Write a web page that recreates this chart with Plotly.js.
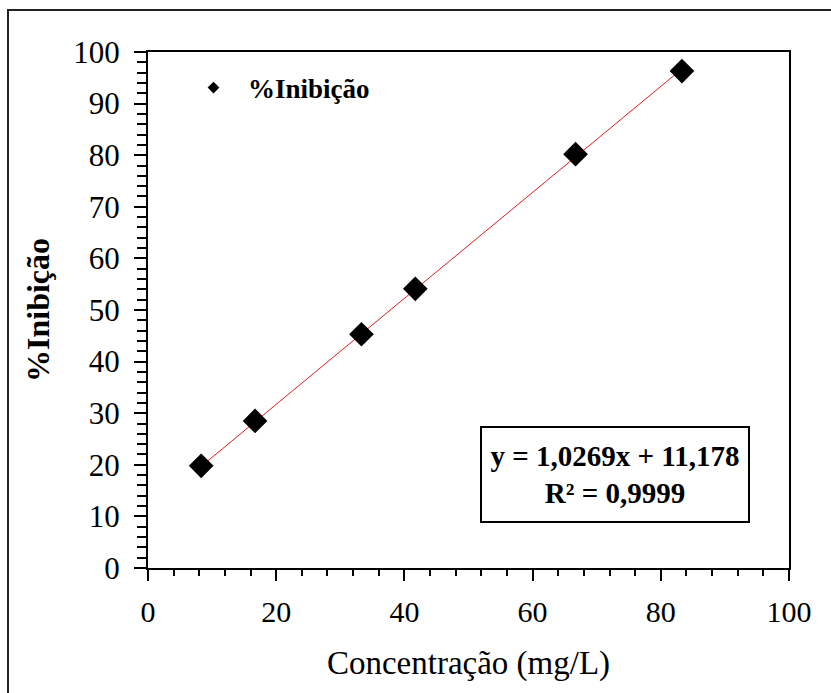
<!DOCTYPE html>
<html>
<head>
<meta charset="utf-8">
<script src="https://cdn.plot.ly/plotly-3.0.1.min.js"></script>
<style>
  html, body { margin: 0; padding: 0; background: #fff; }
  #chart { width: 831px; height: 693px; }
</style>
</head>
<body>
<div id="chart"></div>
<script>
// Concentration (mg/L) and measured inhibition (%)
const concentracao = [8.3, 16.7, 33.3, 41.7, 66.7, 83.3];
const inibicao = [19.8, 28.5, 45.3, 54.1, 80.2, 96.3];

// Linear fit reported for the series
const slope = 1.0269;
const intercept = 11.178;
const r2 = 0.9999;

const xTicks = [0, 20, 40, 60, 80, 100];
const yTicks = [0, 10, 20, 30, 40, 50, 60, 70, 80, 90, 100];

const fmt = (v, d) => v.toFixed(d).replace('.', ',');

const xMin = Math.min(...concentracao);
const xMax = Math.max(...concentracao);
const fitX = [xMin, xMax];
const fitY = fitX.map(x => slope * x + intercept);

const serif = 'Liberation Serif, Times New Roman, serif';

const traces = [
  {
    x: fitX, y: fitY, mode: 'lines', type: 'scatter',
    line: { color: 'rgb(220,30,30)', width: 1 },
    showlegend: false, hoverinfo: 'skip'
  },
  {
    x: concentracao, y: inibicao, mode: 'markers', type: 'scatter',
    marker: { symbol: 'diamond', size: 19, color: '#000' },
    showlegend: false
  },
  {
    // legend entry for the measured series
    x: [null], y: [null], mode: 'markers', type: 'scatter',
    name: '<b>%Inibição</b>',
    marker: { symbol: 'diamond', size: 9, color: '#000' }
  }
];

// plot area geometry in pixels, used for the outer frame
const L = 148, R = 42, T = 52, B = 125, W = 831, H = 693;
const pw = W - L - R, ph = H - T - B;
const px = v => (v - L) / pw;
const py = v => (H - B - v) / ph;

const layout = {
  width: W, height: H,
  margin: { l: L, r: R, t: T, b: B },
  paper_bgcolor: '#fff', plot_bgcolor: '#fff',
  font: { family: serif, color: '#000' },
  xaxis: {
    range: [0, 100], tickvals: xTicks, ticktext: xTicks.map(String),
    showgrid: false, zeroline: false,
    showline: true, linecolor: '#000', linewidth: 2, mirror: true,
    ticks: 'outside', ticklen: 11, tickwidth: 2, tickcolor: '#000',
    minor: { dtick: 4, ticks: 'outside', ticklen: 6, tickwidth: 2, tickcolor: '#000' },
    tickfont: { family: serif, size: 30 },
    ticklabelstandoff: 5,
    title: { text: 'Concentração (mg/L)', font: { family: serif, size: 33 }, standoff: 24 }
  },
  yaxis: {
    range: [0, 100], tickvals: yTicks, ticktext: yTicks.map(String),
    showgrid: false, zeroline: false,
    showline: true, linecolor: '#000', linewidth: 2, mirror: true,
    ticks: 'outside', ticklen: 12, tickwidth: 2, tickcolor: '#000',
    minor: { dtick: 2, ticks: 'outside', ticklen: 9, tickwidth: 2, tickcolor: '#000' },
    tickfont: { family: serif, size: 31 },
    ticklabelstandoff: 8,
    title: { text: '<b>%Inibição</b>', font: { family: serif, size: 32 }, standoff: 14 }
  },
  legend: {
    x: px(179), y: py(88), xanchor: 'left', yanchor: 'middle',
    bgcolor: 'rgba(0,0,0,0)', borderwidth: 0, itemwidth: 59,
    font: { family: serif, size: 27, color: '#000' }
  },
  annotations: [
    {
      xref: 'x', yref: 'y', x: 72.9, y: 18.1,
      text: '<b>y = ' + fmt(slope, 4) + 'x + ' + fmt(intercept, 3) + '</b><br><b>R² = ' + fmt(r2, 4) + '</b>',
      showarrow: false, align: 'center',
      font: { family: serif, size: 29, color: '#000' },
      bordercolor: '#000', borderwidth: 2, borderpad: 4,
      bgcolor: '#fff', width: 258, height: 85
    }
  ],
  shapes: [
    {
      type: 'rect', xref: 'paper', yref: 'paper', layer: 'above',
      x0: px(8), x1: px(845), y0: py(710), y1: py(10),
      line: { color: '#222', width: 2 }
    }
  ]
};

Plotly.newPlot('chart', traces, layout, { displayModeBar: false, staticPlot: true });
</script>
</body>
</html>
